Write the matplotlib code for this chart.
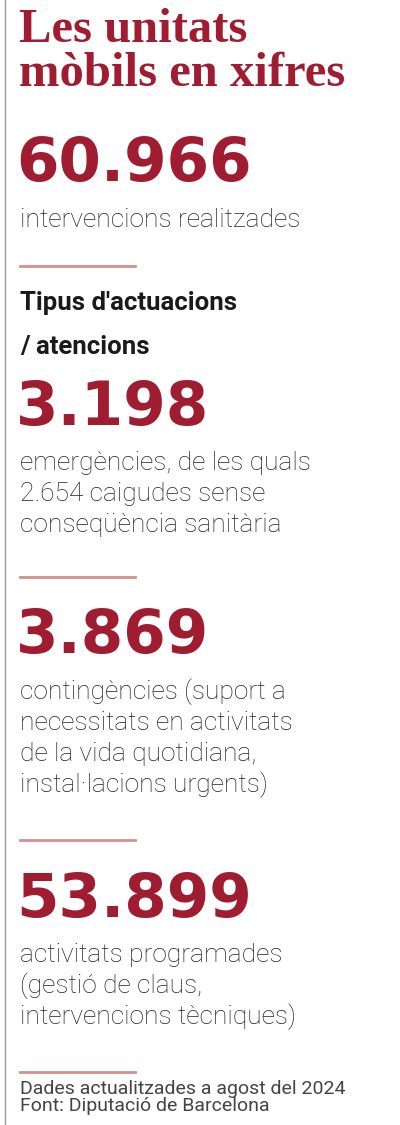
import matplotlib
matplotlib.use("Agg")
import matplotlib.pyplot as plt

title = ["Les unitats", "mòbils en xifres"]
numbers = ["60.966", "3.198", "3.869", "53.899"]
num_y = [165, 408, 637, 900]
descs = [["intervencions realitzades"],
         ["emergències, de les quals", "2.654 caigudes sense", "conseqüència sanitària"],
         ["contingències (suport a", "necessitats en activitats", "de la vida quotidiana,", "instal·lacions urgents)"],
         ["activitats programades", "(gestió de claus,", "intervencions tècniques)"]]
subhead = ["Tipus d'actuacions", "/ atencions"]
rules_y = [266, 577, 840, 1072]
footer = ["Dades actualitzades a agost del 2024", "Font: Diputació de Barcelona"]

RED = "#a01c30"
fig = plt.figure(figsize=(4, 11.25), dpi=100)
ax = fig.add_axes([0, 0, 1, 1])
ax.set_xlim(0, 400); ax.set_ylim(1125, 0); ax.axis("off")
ax.plot([5, 5], [0, 1125], color="#999999", lw=1)

for i, t in enumerate(title):
    ax.text(19, 30 + i * 44, t, family="Liberation Serif", weight="bold",
            fontsize=35, color=RED, va="center")
for i, t in enumerate(subhead):
    ax.text(20, 303 + i * 44, t, family="Roboto", weight="bold", fontsize=18.5,
            color="#1a1a1a", va="center")
for n, y, d in zip(numbers, num_y, descs):
    ax.text(16, y, n, family="DejaVu Sans", weight="heavy", fontsize=44,
            color=RED, va="center")
    for j, line in enumerate(d):
        ax.text(20, y + 55 + j * 31, line, family="Roboto", weight="light",
                fontsize=19, color="#222222", va="center")
for y in rules_y:
    ax.plot([20, 135], [y, y], color="#d4908a", lw=2)
for i, t in enumerate(footer):
    ax.text(20, 1089 + i * 17, t, family="Roboto", fontsize=14,
            color="#444444", va="center")

fig.savefig("out.png", dpi=100)
